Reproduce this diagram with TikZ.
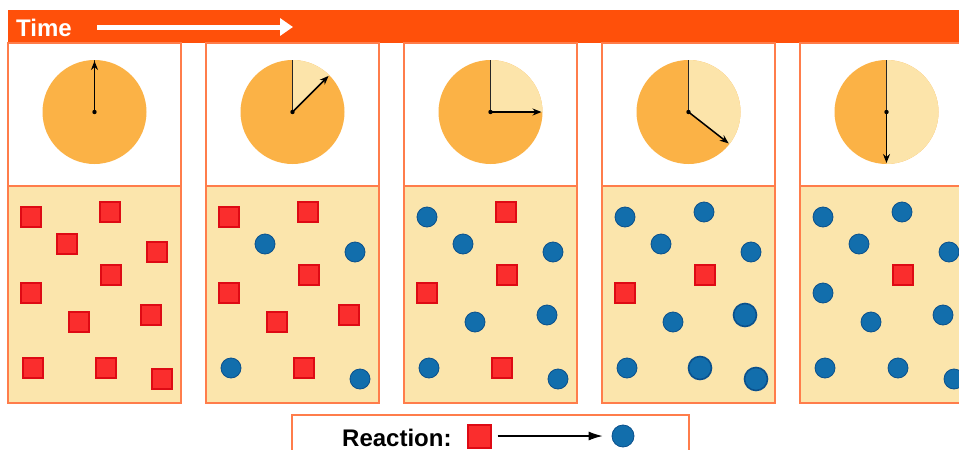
\documentclass[tikz,border=0pt]{standalone}
\usepackage{fontspec}
\setmainfont{Liberation Sans}
\usepackage{xcolor}
\usetikzlibrary{arrows.meta}
\definecolor{barorange}{RGB}{255, 80, 10}
\definecolor{edgeorange}{RGB}{255, 125, 75}
\definecolor{clockdark}{RGB}{251, 178, 70}
\definecolor{clocklight}{RGB}{252, 228, 170}
\definecolor{beige}{RGB}{251, 229, 172}
\definecolor{redfill}{RGB}{250, 45, 45}
\definecolor{rededge}{RGB}{222, 10, 20}
\definecolor{bluefill}{RGB}{18, 110, 172}
\definecolor{blueedge}{RGB}{10, 80, 140}

\begin{document}
\begin{tikzpicture}[x=1pt, y=-1pt,
    reac/.style={rectangle, minimum size=20pt, inner sep=0pt, fill=redfill, draw=rededge, line width=2pt},
    prod/.style={circle, minimum size=20pt, inner sep=0pt, fill=bluefill, draw=blueedge, line width=0.8pt},
    prodb/.style={prod, minimum size=23pt, line width=1.6pt},
    hand/.style={line width=1.5pt, -{Stealth[length=9pt,width=7pt]}},
    label/.style={font=\bfseries\fontsize{24}{28}\selectfont}]
  \def\R{52}
  \useasboundingbox (0,0) rectangle (959,450);
  \clip (0,0) rectangle (959,450);

  % time bar
  \fill[barorange] (8,10) rectangle (959,43);
  \node[label, text=white, anchor=base west, inner sep=0pt] (time) at (16,36) {Time};
  \coordinate (ts) at (97,27);
  \coordinate (te) at (293,27);
  \draw[white, line width=5pt, -{Triangle[length=13pt,width=17pt]}] (ts) -- (te);

  \foreach \k/\a/\kinds in {1/0/{reac,reac,reac,reac,reac,reac,reac,reac,reac,reac,reac},
                            2/45/{reac,reac,prod,prod,reac,reac,reac,reac,prod,reac,prod},
                            3/90/{prod,reac,prod,prod,reac,reac,prod,prod,prod,reac,prod},
                            4/128/{prod,prod,prod,prod,reac,reac,prod,prodb,prod,prodb,prodb},
                            5/180/{prod,prod,prod,prod,reac,prod,prod,prod,prod,prod,prod}}{
    \pgfmathsetmacro\ox{8+198*(\k-1)}
    % panel
    \draw[edgeorange, line width=1.5pt, fill=white] (\ox,43) rectangle (\ox+173,186);
    \draw[edgeorange, line width=1.5pt, fill=beige] (\ox,186) rectangle (\ox+173,403);
    % clock
    \coordinate (o\k) at (\ox+86.5,112);
    \fill[clockdark] (o\k) circle[radius=\R];
    \fill[clocklight] (o\k) -- ++(-90:\R) arc[start angle=-90, end angle=\a-90, radius=\R] -- cycle;
    \draw[black!85, line width=1.1pt] (o\k) -- ++(-90:\R);
    \draw[hand] (o\k) -- ++(\a-90:\R-1);
    \fill (o\k) circle[radius=2.2];
    % molecules
    \foreach \t [count=\i] in \kinds {
      \pgfmathsetmacro\dx{{23,102,59,149,103,23,71,143,25,98,154}[\i-1]}
      \pgfmathsetmacro\dy{{217,212,244,252,275,293,322,315,368,368,379}[\i-1]}
      \node[\t] (m\k-\i) at (\ox+\dx,\dy) {};
    }
  }

  % legend
  \draw[edgeorange, line width=1.5pt, fill=white] (292,415) rectangle (689,460);
  \node[label, anchor=base west, inner sep=0pt] (reaction) at (342,446) {Reaction:};
  \node[reac, minimum size=23pt] (lsq) at (479,436) {};
  \node[prod, minimum size=22pt] (lci) at (623,436) {};
  \draw[line width=1.1pt, -{Latex[length=14pt,width=9pt]}, shorten <=6pt, shorten >=9pt] (lsq) -- (lci);
\end{tikzpicture}
\end{document}
